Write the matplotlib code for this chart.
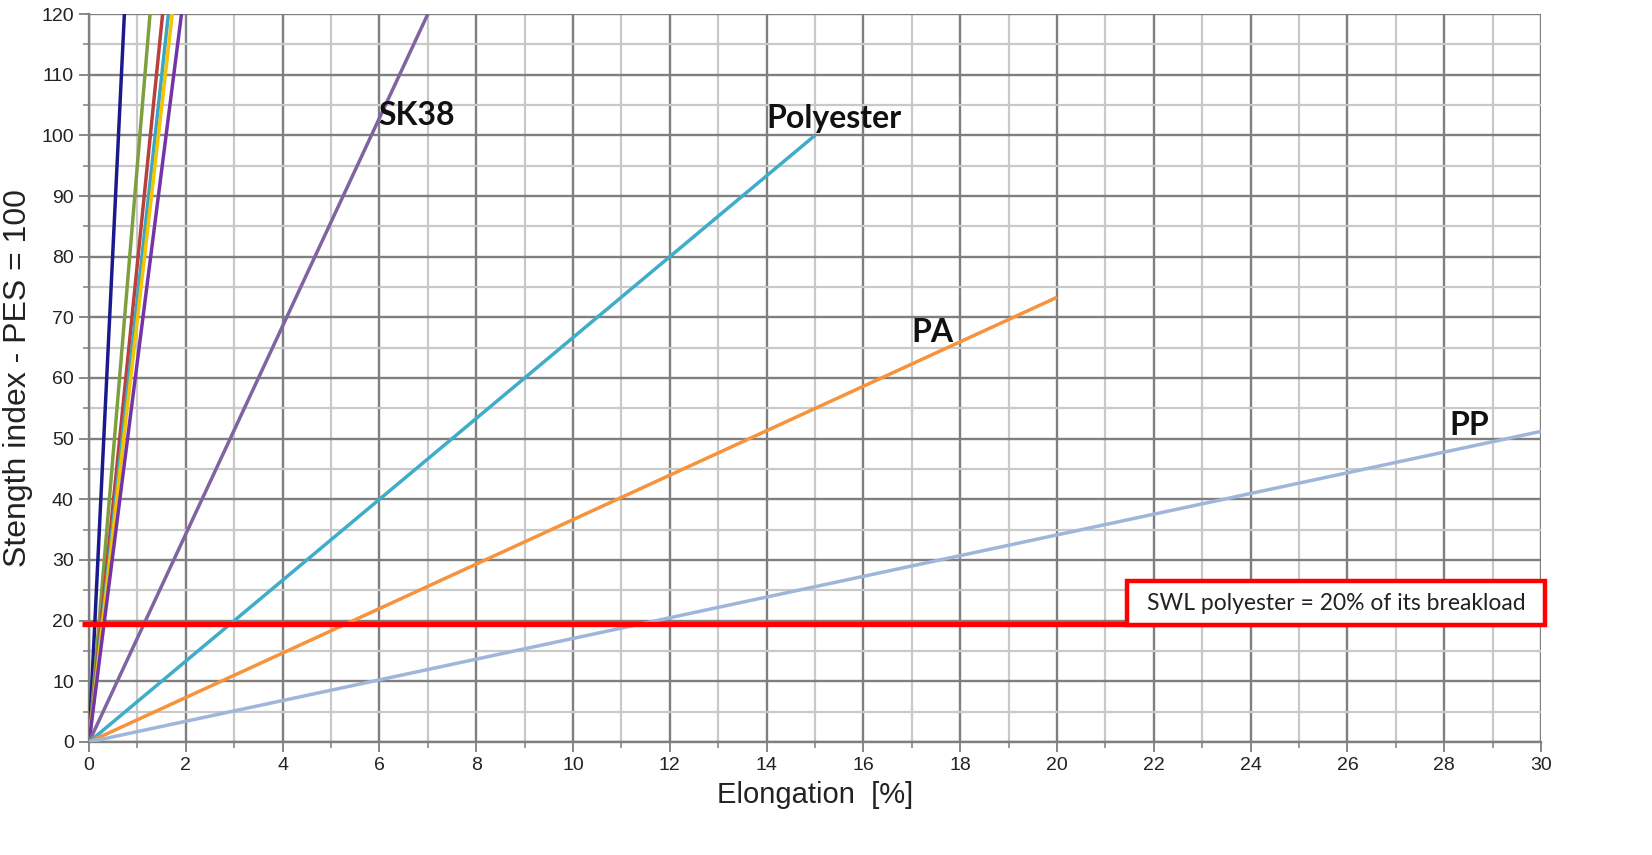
import matplotlib
matplotlib.use("Agg")
import matplotlib.pyplot as plt
from matplotlib.patches import Rectangle
from matplotlib.ticker import MultipleLocator

# ---- data (end points of each straight line: origin -> break point) ----
steep_names = ["navy", "green", "red", "teal", "yellow", "violet"]
steep_x_end = [0.73, 1.26, 1.52, 1.64, 1.72, 1.91]
steep_y_end = [120, 120, 120, 120, 120, 120]
steep_colors = ["#1a1a8c", "#7f9f3f", "#b9403d", "#3aa6c4", "#f5c400", "#7434a8"]

main_names = ["SK38", "Polyester", "PA", "PP"]
main_x_end = [7.0, 15.0, 20.0, 30.0]
main_y_end = [120.0, 100.0, 73.3, 51.2]
main_colors = ["#8064a2", "#3fadc9", "#f7923d", "#9eb6da"]
label_x = [5.97, 14.0, 17.0, 28.1]
label_y = [103.2, 102.7, 67.5, 52.2]

swl_level = 19.5
swl_text = "SWL polyester = 20% of its breakload"
x_label = "Elongation  [%]"
y_label = "Stength index - PES = 100"
x_ticks = list(range(0, 31, 2))
y_ticks = list(range(0, 121, 10))

fig = plt.figure(figsize=(16.52, 8.55), dpi=100)
ax = fig.add_axes([0.0539, 0.1322, 0.8789, 0.8514])

ax.set_xlim(0, 30)
ax.set_ylim(0, 120)
ax.set_xticks(x_ticks)
ax.set_yticks(y_ticks)
ax.xaxis.set_minor_locator(MultipleLocator(1))
ax.yaxis.set_minor_locator(MultipleLocator(5))
ax.grid(which="major", color="#7f7f7f", linewidth=1.7, zorder=0)
ax.grid(which="minor", color="#c9c9c9", linewidth=1.6, zorder=0)
ax.set_axisbelow(True)
for s in ["top", "right"]:
    ax.spines[s].set_visible(False)
for s in ["left", "bottom"]:
    ax.spines[s].set_color("#7f7f7f")
    ax.spines[s].set_linewidth(1.7)
ax.tick_params(which="major", length=7, width=1.3, color="#7f7f7f",
               labelsize=14, labelcolor="#222222", pad=4)
ax.tick_params(which="minor", length=4, width=1.1, color="#7f7f7f")
for lab in ax.get_xticklabels() + ax.get_yticklabels():
    lab.set_family(["Liberation Sans", "DejaVu Sans"])

for xe, ye, c in zip(steep_x_end, steep_y_end, steep_colors):
    ax.plot([0, xe], [0, ye], color=c, linewidth=2.5, solid_capstyle="butt", zorder=3)

for xe, ye, c in zip(main_x_end, main_y_end, main_colors):
    ax.plot([0, xe], [0, ye], color=c, linewidth=2.5, solid_capstyle="butt", zorder=3)

for name, lx, ly in zip(main_names, label_x, label_y):
    ax.text(lx, ly, name, fontsize=23, fontweight="bold", family=["Lato", "DejaVu Sans"],
            ha="left", va="center", color="#111111", zorder=5)

ax.plot([-0.15, 30], [swl_level, swl_level], color="#ff0000", linewidth=3.8,
        clip_on=False, zorder=4, solid_capstyle="butt")

rect = Rectangle((21.45, 19.2), 8.63, 7.4, facecolor="white", edgecolor="#ff0000",
                 linewidth=3.2, clip_on=False, zorder=6)
ax.add_patch(rect)
ax.text(21.45 + 8.63 / 2, 19.2 + 7.4 / 2, swl_text, fontsize=16.5,
        family=["Lato", "DejaVu Sans"], ha="center", va="center", color="#222222", zorder=7)

ax.set_xlabel(x_label, fontsize=21, family=["Liberation Sans Narrow", "Liberation Sans"],
              color="#222222", labelpad=5)
ax.set_ylabel(y_label, fontsize=23, family=["Liberation Sans Narrow", "Liberation Sans"],
              color="#222222", labelpad=6)

fig.savefig("out.png", dpi=100)
